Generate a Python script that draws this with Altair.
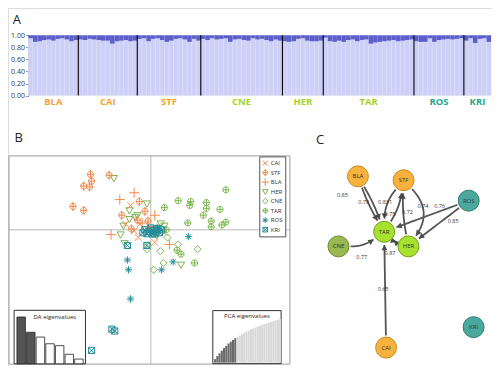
import math
import altair as alt
import pandas as pd

# ---------------- layout helpers (reference px -> canvas px) ----------------
W, H = 484, 358
def PX(rx):
    return (rx - 2) * 0.972
def PY(ry):
    return (ry - 4) * 0.973

FONT = "Open Sans"

# ---------------- Panel A data: cluster-2 membership per individual ----------------
pops = ["BLA", "CAI", "STF", "CNE", "HER", "TAR", "ROS", "KRI"]
pop_label_colors = ["#f5a234", "#f5a234", "#f5a234", "#a6d32a", "#a6d32a", "#a6d32a", "#1ea88e", "#1ea88e"]
q2_BLA = [0.05, 0.11, 0.10, 0.08, 0.07, 0.09, 0.06, 0.05, 0.07, 0.10, 0.08]
q2_CAI = [0.07, 0.08, 0.06, 0.07, 0.08, 0.09, 0.09, 0.14, 0.10, 0.09, 0.08, 0.10, 0.09]
q2_STF = [0.06, 0.05, 0.10, 0.06, 0.05, 0.08, 0.11, 0.09, 0.06, 0.05, 0.07, 0.11, 0.06, 0.09]
q2_CNE = [0.06, 0.08, 0.05, 0.07, 0.06, 0.05, 0.11, 0.07, 0.06, 0.08, 0.09, 0.05, 0.07, 0.06, 0.08, 0.10, 0.07, 0.09]
q2_HER = [0.10, 0.11, 0.10, 0.06, 0.05, 0.09, 0.10, 0.10, 0.09]
q2_TAR = [0.04, 0.10, 0.11, 0.09, 0.11, 0.08, 0.07, 0.10, 0.08, 0.07, 0.14, 0.12, 0.11, 0.10, 0.09, 0.08, 0.10, 0.09, 0.08, 0.07]
q2_ROS = [0.10, 0.11, 0.11, 0.05, 0.11, 0.08, 0.07, 0.06, 0.07, 0.06, 0.05]
q2_KRI = [0.09, 0.05, 0.13, 0.06, 0.05, 0.11]
q2_all = [q2_BLA, q2_CAI, q2_STF, q2_CNE, q2_HER, q2_TAR, q2_ROS, q2_KRI]
yticks_A = [0.0, 0.2, 0.4, 0.6, 0.8, 1.0]

# ---------------- Panel B data: DAPC scores ----------------
scatter_order = ["CAI", "STF", "BLA", "HER", "CNE", "TAR", "ROS", "KRI"]
scatter_colors = ["#f2884b", "#f2884b", "#f2884b", "#7cb655", "#7cba55", "#79b84a", "#248b98", "#238c9a"]
CAI_pts = [(-0.72, 1.17), (-0.90, 0.28), (-0.38, 0.28), (0.14, -0.61), (0.48, -0.14), (-0.21, -0.05),
           (-0.59, -0.05), (0.31, 0.14), (-0.45, -0.37), (0.10, 0.05)]
STF_pts = [(-2.14, 2.66), (-2.10, 2.34), (-2.17, 2.06), (-2.38, 2.10), (-1.48, 2.62), (-2.76, 1.12),
           (-2.38, 0.93), (-0.41, 1.36), (-0.21, 0.89), (-1.03, 0.70), (-0.69, 0.05), (-0.48, 0.47),
           (0.03, 0.0), (-0.10, 0.42)]
BLA_pts = [(-0.59, 1.78), (-1.10, 1.45), (-1.41, -0.23), (0.14, 0.70), (0.66, -0.70), (-0.31, 0.33), (-0.10, 0.14)]
HER_pts = [(-1.31, 2.48), (-0.14, 1.26), (-0.76, 0.93), (-0.55, 0.61), (-0.76, 0.51), (-0.97, 0.19),
           (-1.07, -0.23), (-0.93, -0.65), (1.07, -1.68), (0.48, 0.19), (-0.48, 0.70), (0.21, -0.28), (0.35, 0.30)]
CNE_pts = [(0.97, -0.70), (0.45, -1.59), (0.10, -1.92), (0.34, -1.03), (-0.14, -0.93), (-0.10, -0.75),
           (1.66, -0.93), (0.59, -0.37)]
TAR_pts = [(0.48, 1.07), (0.97, 1.40), (1.41, 1.36), (1.38, 1.17), (1.97, 1.31), (1.97, 1.03), (1.86, 0.70),
           (2.45, 0.98), (2.14, 0.42), (2.14, 0.14), (2.52, 0.23), (2.66, 0.37), (2.66, 1.92), (1.31, 0.33),
           (1.55, -1.59), (0.93, -0.98), (1.07, -1.17), (0.55, 0.0), (0.25, -0.10)]
ROS_pts = [(1.34, -0.33), (0.79, -1.54), (0.38, -1.92), (-0.83, -1.45), (-0.79, -1.92), (-0.72, -3.32),
           (0.03, -0.09), (0.24, 0.05), (0.10, -0.15)]
KRI_pts = [(-0.83, -0.75), (-0.14, -0.75), (-1.38, -4.77), (-1.28, -4.86), (-2.10, -5.79), (-0.21, 0.0),
           (-0.07, -0.09), (0.07, -0.05), (0.21, 0.0), (0.31, -0.14), (-0.14, -0.19), (0.0, 0.09),
           (0.14, -0.19), (0.38, 0.0), (-0.28, -0.14), (0.05, -0.20), (0.25, 0.07)]
pts_by_pop = {"CAI": CAI_pts, "STF": STF_pts, "BLA": BLA_pts, "HER": HER_pts,
              "CNE": CNE_pts, "TAR": TAR_pts, "ROS": ROS_pts, "KRI": KRI_pts}

da_eigen = [4.9, 3.3, 2.8, 2.1, 1.9, 1.0, 0.5]
da_fill = ["#555555", "#555555", "white", "white", "white", "white", "white"]
pca_cum = [8, 15, 21, 27, 33, 38, 43, 47, 51, 55, 58, 61, 64, 67, 70, 72, 75, 77, 79, 81,
           83, 85, 87, 88, 90, 92, 93, 95, 96, 98]
pca_retained = 10

# ---------------- Panel C data: network ----------------
node_names = ["BLA", "STF", "ROS", "TAR", "HER", "CNE", "CAI", "KRI"]
node_x = [362, 409, 476, 389, 414, 342, 391, 481]
node_y = [177, 181, 202, 234, 249, 249, 353, 332]
node_fill = ["#f6b23c", "#f6b23c", "#4aa99c", "#a8e22e", "#a8e22e", "#97b950", "#f6b23c", "#4aa99c"]
node_stroke = ["#c98a1e", "#c98a1e", "#2f7d72", "#6f9e1a", "#6f9e1a", "#6d8a35", "#c98a1e", "#2f7d72"]
edge_src = ["BLA", "BLA", "STF", "TAR", "HER", "STF", "ROS", "ROS", "CNE", "TAR", "HER", "CAI"]
edge_tgt = ["TAR", "TAR", "TAR", "STF", "STF", "HER", "TAR", "HER", "TAR", "HER", "TAR", "TAR"]
edge_bend = [3, -3, 10, 6, -4, -28, 0, 0, 8, 3, -3, 0]
elabel_text = ["0.85", "0.78", "0.831", "0.75", "0.72", "0.74", "0.76", "0.85", "0.77", "0.87", "0.65"]
elabel_x = [346, 368, 390, 395, 413, 429, 446, 460, 366, 395, 388]
elabel_y = [196, 203, 203, 216, 214, 208, 207, 223, 260, 256, 293]

# ================= build frames =================
rowsA, mids, bounds = [], [], []
i = 0
for p, qs in zip(pops, q2_all):
    s = i
    for q in qs:
        rowsA.append({"i0": i, "i1": i + 1, "lo": 0.0, "mid": 1 - q, "hi": 1.0, "pop": p})
        i += 1
    mids.append((s + i) / 2)
    bounds.append(i)
N = i
dfA = pd.DataFrame(rowsA)
dfBounds = pd.DataFrame({"b": bounds[:-1], "y0": 0.0, "y1": 1.0})
dfPopLab = pd.DataFrame({"mid": mids, "pop": pops, "col": pop_label_colors})

xA = alt.Scale(domain=[0, N], range=[PX(23), PX(499)], nice=False, zero=False)
yA = alt.Scale(domain=[0, 1], range=[PY(94), PY(32)], nice=False)

a_light = alt.Chart(dfA).mark_rect(fill="#cdd0f6", stroke="#dcdefa", strokeWidth=0.5).encode(
    x=alt.X("i0:Q", scale=xA, axis=None), x2="i1:Q",
    y=alt.Y("lo:Q", scale=yA, axis=alt.Axis(values=yticks_A, format=".2f", labelFontSize=7, tickSize=3,
                                           labelPadding=1, grid=False, title=None, offset=-PX(23),
                                           domainColor="#999", tickColor="#999", labelColor="#333")),
    y2="mid:Q")
a_dark = alt.Chart(dfA).mark_rect(fill="#5c5ecc").encode(
    x=alt.X("i0:Q", scale=xA, axis=None), x2="i1:Q",
    y=alt.Y("mid:Q", scale=yA, axis=None), y2="hi:Q")
a_bounds = alt.Chart(dfBounds).mark_rule(color="black", strokeWidth=1.1).encode(
    x=alt.X("b:Q", scale=xA, axis=None),
    y=alt.Y("y0:Q", scale=yA, axis=None), y2="y1:Q")
a_labels = alt.Chart(dfPopLab).mark_text(fontSize=9.5, fontWeight="bold", font=FONT).encode(
    x=alt.X("mid:Q", scale=xA, axis=None), y=alt.value(PY(101)),
    text="pop:N", color=alt.Color("col:N", scale=None))

# ---- Panel B ----
bx_dom = [-5.03, 4.93]
by_dom = [-6.45, 3.55]
xB = alt.Scale(domain=bx_dom, range=[PX(3), PX(292)], nice=False, zero=False)
yB = alt.Scale(domain=by_dom, range=[PY(370), PY(156)], nice=False, zero=False)

dfBframe = pd.DataFrame({"x0": [bx_dom[0]], "x1": [bx_dom[1]], "y0": [by_dom[0]], "y1": [by_dom[1]]})
b_frame = alt.Chart(dfBframe).mark_rect(fillOpacity=0, stroke="#9a9a9a", strokeWidth=1).encode(
    x=alt.X("x0:Q", scale=xB, axis=None), x2="x1:Q",
    y=alt.Y("y0:Q", scale=yB, axis=None), y2="y1:Q")
dfVline = pd.DataFrame({"x": [0.0], "y0": [by_dom[0]], "y1": [by_dom[1]]})
dfHline = pd.DataFrame({"y": [0.0], "x0": [bx_dom[0]], "x1": [bx_dom[1]]})
b_v = alt.Chart(dfVline).mark_rule(color="#a8a8a8", strokeWidth=0.8).encode(
    x=alt.X("x:Q", scale=xB, axis=None), y=alt.Y("y0:Q", scale=yB, axis=None), y2="y1:Q")
b_h = alt.Chart(dfHline).mark_rule(color="#a8a8a8", strokeWidth=0.8).encode(
    y=alt.Y("y:Q", scale=yB, axis=None), x=alt.X("x0:Q", scale=xB, axis=None), x2="x1:Q")

rowsB = []
for p in ["TAR", "CNE", "HER", "STF", "BLA", "CAI", "ROS", "KRI"]:
    for (x, y) in pts_by_pop[p]:
        rowsB.append({"pop": p, "ld1": x, "ld2": y})
dfB = pd.DataFrame(rowsB)

P_X = "M-0.9,-0.9L0.9,0.9M-0.9,0.9L0.9,-0.9"
P_CPLUS = "M-0.85,0A0.85,0.85,0,1,1,0.85,0A0.85,0.85,0,1,1,-0.85,0ZM-0.85,0L0.85,0M0,-1.25L0,1.25"
P_PLUS = "M-1.4,0L1.4,0M0,-1.4L0,1.4"
P_TDOWN = "M-1,-0.75L1,-0.75L0,1Z"
P_DIAM = "M0,-1L1,0L0,1L-1,0Z"
P_TAR = "M-0.85,0A0.85,0.85,0,1,1,0.85,0A0.85,0.85,0,1,1,-0.85,0ZM-0.85,0L0.85,0M0,-0.85L0,0.85"
P_AST = "M-1,0L1,0M0,-1L0,1M-0.7,-0.7L0.7,0.7M-0.7,0.7L0.7,-0.7"
P_SQX = "M-0.85,-0.85L0.85,-0.85L0.85,0.85L-0.85,0.85ZM-0.85,-0.85L0.85,0.85M-0.85,0.85L0.85,-0.85"
shape_paths = [P_X, P_CPLUS, P_PLUS, P_TDOWN, P_DIAM, P_TAR, P_AST, P_SQX]

leg = dict(orient="none", legendX=PX(260.5), legendY=PY(156.5), title=None, labelFontSize=6,
           labelFont=FONT, symbolSize=30, symbolStrokeWidth=1, padding=2.5, rowPadding=0.5,
           clipHeight=8.5, strokeColor="#555555", fillColor="white", labelOffset=2, labelColor="#333")
b_pts = alt.Chart(dfB).mark_point(filled=False, size=52, strokeWidth=1, opacity=1).encode(
    x=alt.X("ld1:Q", scale=xB, axis=None),
    y=alt.Y("ld2:Q", scale=yB, axis=None),
    color=alt.Color("pop:N", scale=alt.Scale(domain=scatter_order, range=scatter_colors), legend=alt.Legend(**leg)),
    shape=alt.Shape("pop:N", scale=alt.Scale(domain=scatter_order, range=shape_paths), legend=alt.Legend(**leg)))

# DA eigenvalue inset
xDAf = alt.Scale(domain=[0, 1], range=[PX(8.3), PX(81.7)], nice=False, zero=False)
yDAf = alt.Scale(domain=[0, 1], range=[PY(369.7), PY(314.7)], nice=False, zero=False)
dfFrame = pd.DataFrame({"x0": [0.0], "x1": [1.0], "y0": [0.0], "y1": [1.0]})
da_frame = alt.Chart(dfFrame).mark_rect(fill="white", stroke="#333", strokeWidth=1).encode(
    x=alt.X("x0:Q", scale=xDAf, axis=None), x2="x1:Q", y=alt.Y("y0:Q", scale=yDAf, axis=None), y2="y1:Q")
dfDA = pd.DataFrame({"k": [str(j + 1) for j in range(len(da_eigen))], "v": da_eigen, "f": da_fill})
da_bars = alt.Chart(dfDA).mark_bar(stroke="#222", strokeWidth=0.8).encode(
    x=alt.X("k:N", sort=None, scale=alt.Scale(type="band", domain=list(dfDA["k"]), range=[PX(11), PX(79.5)],
                                              paddingInner=0.12, paddingOuter=0.02), axis=None),
    y=alt.Y("v:Q", scale=alt.Scale(domain=[0, 5.6], range=[PY(369.7), PY(314.7)], nice=False), axis=None),
    fill=alt.Fill("f:N", scale=None))
da_title = alt.Chart(pd.DataFrame({"t": ["DA eigenvalues"], "x": [0.57], "y": [0.87]})).mark_text(
    fontSize=6, font=FONT, color="#222").encode(
    x=alt.X("x:Q", scale=xDAf, axis=None), y=alt.Y("y:Q", scale=yDAf, axis=None), text="t:N")

# PCA eigenvalue inset
xPf = alt.Scale(domain=[0, 1], range=[PX(212.7), PX(283)], nice=False, zero=False)
yPf = alt.Scale(domain=[0, 1], range=[PY(369.5), PY(315)], nice=False, zero=False)
pca_frame = alt.Chart(dfFrame).mark_rect(fill="white", stroke="#333", strokeWidth=1).encode(
    x=alt.X("x0:Q", scale=xPf, axis=None), x2="x1:Q", y=alt.Y("y0:Q", scale=yPf, axis=None), y2="y1:Q")
dfP = pd.DataFrame({"k": list(range(len(pca_cum))), "v": pca_cum,
                    "f": ["#6a6a6a" if j < pca_retained else "#d8d8d8" for j in range(len(pca_cum))]})
pca_bars = alt.Chart(dfP).mark_bar().encode(
    x=alt.X("k:O", scale=alt.Scale(type="band", range=[PX(214), PX(283)], paddingInner=0.08, paddingOuter=0), axis=None),
    y=alt.Y("v:Q", scale=alt.Scale(domain=[0, 117], range=[PY(368.5), PY(315)], nice=False), axis=None),
    fill=alt.Fill("f:N", scale=None))
pca_title = alt.Chart(pd.DataFrame({"t": ["PCA eigenvalues"], "x": [0.5], "y": [0.9]})).mark_text(
    fontSize=6, font=FONT, color="#222").encode(
    x=alt.X("x:Q", scale=xPf, axis=None), y=alt.Y("y:Q", scale=yPf, axis=None), text="t:N")

# ---- Panel C ----
xC = alt.Scale(domain=[300, 500], range=[PX(300), PX(500)], nice=False, zero=False)
yC = alt.Scale(domain=[130, 372], range=[PY(130), PY(372)], nice=False, zero=False)
pos = {n: (x, y) for n, x, y in zip(node_names, node_x, node_y)}
R = 12.5

def toward(ax, ay, bx, by, r):
    d = math.hypot(bx - ax, by - ay)
    return ax + (bx - ax) / d * r, ay + (by - ay) / d * r

line_rows, arrow_rows = [], []
for e, (s, t, b) in enumerate(zip(edge_src, edge_tgt, edge_bend)):
    sx, sy = pos[s]
    tx, ty = pos[t]
    L = math.hypot(tx - sx, ty - sy)
    nx, ny = -(ty - sy) / L, (tx - sx) / L
    cx, cy = (sx + tx) / 2 + b * nx, (sy + ty) / 2 + b * ny
    p0 = toward(sx, sy, cx, cy, R)
    p2 = toward(tx, ty, cx, cy, R + 1)
    for k in range(21):
        u = k / 20
        x = (1 - u) ** 2 * p0[0] + 2 * (1 - u) * u * cx + u ** 2 * p2[0]
        y = (1 - u) ** 2 * p0[1] + 2 * (1 - u) * u * cy + u ** 2 * p2[1]
        line_rows.append({"e": e, "k": k, "x": x, "y": y})
    dx, dy = p2[0] - cx, p2[1] - cy
    d = math.hypot(dx, dy)
    ux, uy = dx / d, dy / d
    arrow_rows.append({"x": p2[0] - 2.8 * ux, "y": p2[1] - 2.8 * uy,
                       "ang": math.degrees(math.atan2(ux, -uy)) % 360})
dfLines = pd.DataFrame(line_rows)
dfArrows = pd.DataFrame(arrow_rows)
dfNodes = pd.DataFrame({"n": node_names, "x": node_x, "y": node_y, "f": node_fill, "s": node_stroke})
dfElab = pd.DataFrame({"t": elabel_text, "x": elabel_x, "y": elabel_y})

c_lines = alt.Chart(dfLines).mark_line(color="#555555", strokeWidth=1.8).encode(
    x=alt.X("x:Q", scale=xC, axis=None), y=alt.Y("y:Q", scale=yC, axis=None),
    detail="e:N", order="k:Q")
c_arrows = alt.Chart(dfArrows).mark_point(shape="triangle-up", filled=True, size=36, color="#4a4a4a", opacity=1).encode(
    x=alt.X("x:Q", scale=xC, axis=None), y=alt.Y("y:Q", scale=yC, axis=None),
    angle=alt.Angle("ang:Q", scale=None))
c_nodes = alt.Chart(dfNodes).mark_circle(size=440, opacity=1, strokeWidth=1).encode(
    x=alt.X("x:Q", scale=xC, axis=None), y=alt.Y("y:Q", scale=yC, axis=None),
    fill=alt.Fill("f:N", scale=None), stroke=alt.Stroke("s:N", scale=None))
c_nlab = alt.Chart(dfNodes).mark_text(fontSize=6, font=FONT, color="#333").encode(
    x=alt.X("x:Q", scale=xC, axis=None), y=alt.Y("y:Q", scale=yC, axis=None), text="n:N")
c_elab = alt.Chart(dfElab).mark_text(fontSize=5.5, font=FONT, color="#333").encode(
    x=alt.X("x:Q", scale=xC, axis=None), y=alt.Y("y:Q", scale=yC, axis=None), text="t:N")

# panel letters
def letter(t, rx, ry):
    return alt.Chart(pd.DataFrame({"t": [t]})).mark_text(fontSize=13, font=FONT, color="#222",
                                                         baseline="middle").encode(
        text="t:N", x=alt.value(PX(rx)), y=alt.value(PY(ry)))

chart = alt.layer(
    a_light, a_dark, a_bounds, a_labels,
    b_frame, b_v, b_h, b_pts,
    da_frame, da_bars, da_title,
    pca_frame, pca_bars, pca_title,
    c_lines, c_arrows, c_nodes, c_nlab, c_elab,
    letter("A", 11, 16), letter("B", 13, 138), letter("C", 323, 140),
).resolve_scale(x="independent", y="independent").properties(
    width=W, height=H, padding=0, autosize=alt.AutoSizeParams(type="none"), background="white"
).configure_view(stroke=None).configure(font=FONT)

chart.save("out.html", embed_options={"renderer": "svg", "actions": False})
